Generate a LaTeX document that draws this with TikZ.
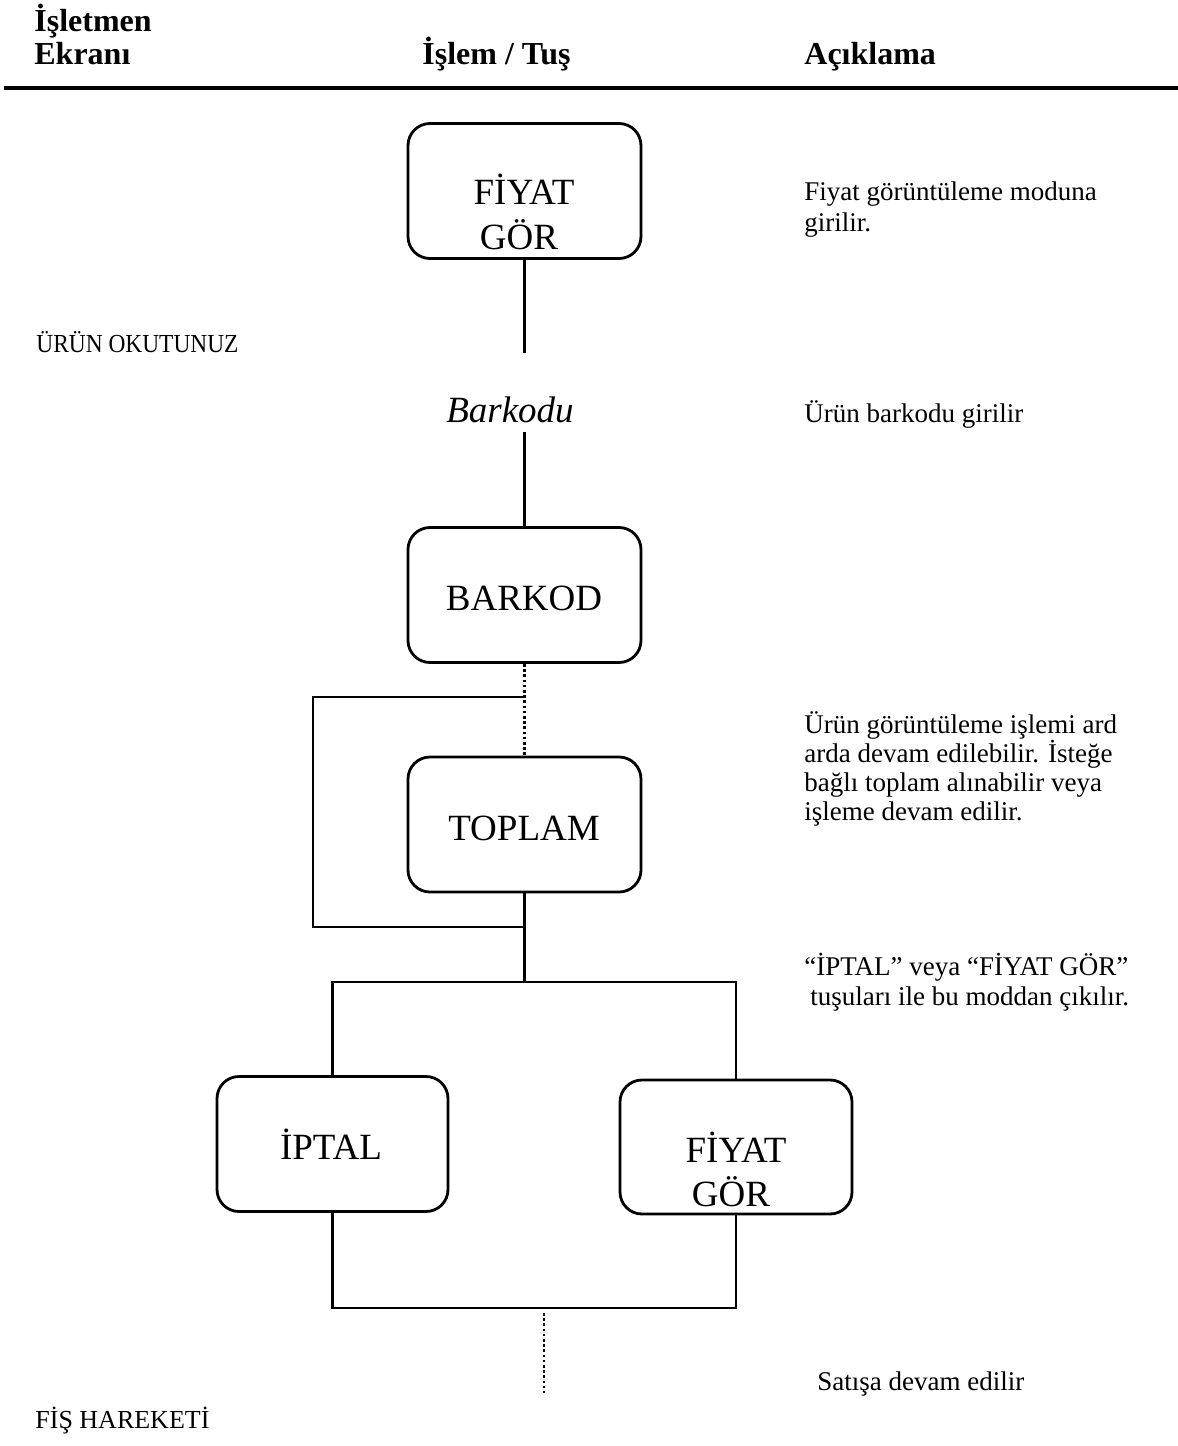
\documentclass[tikz,border=0pt]{standalone}
\usepackage{fontspec}
\setmainfont{Liberation Serif}
\newfontfamily\narrowfont[FakeStretch=0.9]{Liberation Serif}
\begin{document}
\begin{tikzpicture}[x=0.5pt,y=-0.5pt,
  box/.style={draw, line width=1.4pt, rounded corners=11pt, minimum width=116.5pt, minimum height=67.5pt, inner sep=0pt},
  boxtxt/.style={anchor=base, inner sep=0pt, font=\fontsize{18.5}{22}\selectfont},
  hdr/.style={anchor=base west, inner sep=0pt, font=\fontsize{16}{18}\selectfont\bfseries},
  desc/.style={anchor=base west, inner sep=0pt, font=\fontsize{13.5}{15.5}\selectfont},
  side/.style={anchor=base west, inner sep=0pt, font=\fontsize{13}{15}\selectfont},
  conn/.style={line width=1.4pt},
  loopline/.style={line width=1pt},
  dots/.style={line width=1.3pt, dash pattern=on 1.3pt off 1.3pt}]
\useasboundingbox (0,0) rectangle (1178,1446);

% header
\node[hdr] (h1) at (34,31) {İşletmen};
\node[hdr] (h2) at (34,64) {Ekranı};
\node[hdr] (h3) at (422,64) {İşlem / Tuş};
\node[hdr] (h4) at (804,64) {Açıklama};
\draw[line width=2pt] (4,88) -- (1178,88);

% boxes
\node[box] (b1) at (524.5,191) {};
\node[boxtxt] (t1a) at (524,204) {FİYAT};
\node[boxtxt] (t1b) at (519,249) {GÖR};

\node[anchor=base, inner sep=0pt, font=\fontsize{18.5}{22}\selectfont\itshape,
      text height=34.5pt, text depth=5pt] (bk) at (510,422) {Barkodu};

\node[box] (b2) at (524.5,595) {};
\node[boxtxt] (t2) at (524,610) {BARKOD};

\node[box] (b3) at (524.5,824.5) {};
\node[boxtxt] (t3) at (524,840) {TOPLAM};

\node[box, minimum width=115.5pt] (b4) at (332.5,1144) {};
\node[boxtxt] (t4) at (331,1159) {İPTAL};

\node[box, minimum width=116pt, minimum height=67pt] (b5) at (736,1147) {};
\node[boxtxt] (t5a) at (736,1162) {FİYAT};
\node[boxtxt] (t5b) at (731,1206) {GÖR};

% side labels
\node[side, font=\fontsize{13}{15}\narrowfont] (s1) at (36,352) {ÜRÜN OKUTUNUZ};
\node[side] (s2) at (35,1428) {FİŞ HAREKETİ};

% descriptions
\node[desc] (d1a) at (804,200) {Fiyat görüntüleme moduna};
\node[desc] (d1b) at (804,231) {girilir.};
\node[desc] (d2) at (804,422) {Ürün barkodu girilir};
\node[desc] (d3a) at (804,733) {Ürün görüntüleme işlemi ard};
\node[desc] (d3b) at (804,762) {arda devam edilebilir. İsteğe};
\node[desc] (d3c) at (804,791) {bağlı toplam alınabilir veya};
\node[desc] (d3d) at (804,820) {işleme devam edilir.};
\node[desc] (d4a) at (804,975) {“İPTAL” veya “FİYAT GÖR”};
\node[desc] (d4b) at (810,1005) {tuşuları ile bu moddan çıkılır.};
\node[desc] (d5) at (817,1390) {Satışa devam edilir};

% coordinates
\coordinate (lt) at (524.5,697);
\coordinate (lb) at (524.5,927);
\coordinate (ll) at (313,697);
\coordinate (br) at (524.5,982);
\coordinate (jn) at (544,1308);
\coordinate (e1) at (544,1313);
\coordinate (e2) at (544,1393);

% connectors
\draw[conn] (b1.south) -- (b1.south |- bk.north);
\draw[conn] (b2.north |- bk.south) -- (b2.north);
\draw[dots] (b2.south) -- (b3.north);
\draw[loopline] (lt) -- (ll) -- (ll |- lb) -- (lb);
\draw[conn] (b3.south) -- (br);
\draw[conn] (b4.north) -- (b4.north |- br) -- (b5.north |- br) -- (b5.north);
\draw[conn] (b4.south) |- (jn) -| (b5.south);
\draw[dots] (e1) -- (e2);
\end{tikzpicture}
\end{document}
